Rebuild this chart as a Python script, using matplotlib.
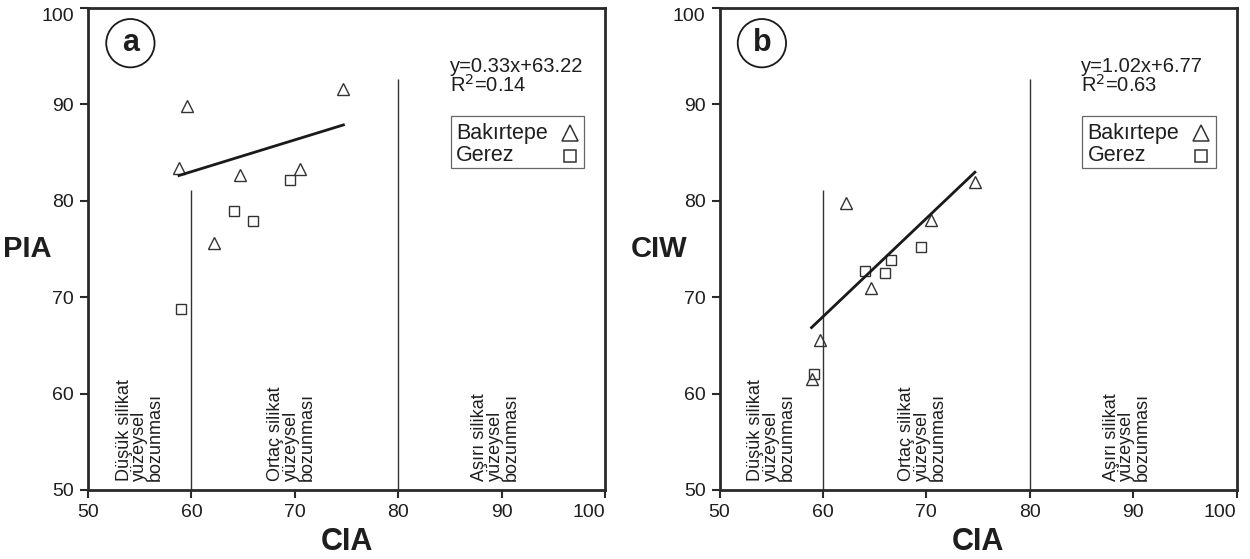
import matplotlib
matplotlib.use("Agg")
import matplotlib.pyplot as plt
from matplotlib.patches import Rectangle
import numpy as np

plt.rcParams['font.family'] = ['Liberation Sans', 'DejaVu Sans']

# ---- data ----
# Panel a: CIA vs PIA
a_bak_cia = [59.6, 74.7, 58.8, 64.7, 70.5, 62.2]
a_bak_pia = [89.8, 91.6, 83.4, 82.7, 83.3, 75.6]
a_ger_cia = [69.5, 64.1, 66.0, 59.0]
a_ger_pia = [82.2, 78.9, 77.9, 68.8]
a_slope, a_intercept, a_r2 = 0.33, 63.22, 0.14

# Panel b: CIA vs CIW
b_bak_cia = [62.2, 74.7, 70.5, 64.7, 59.7, 58.9]
b_bak_ciw = [79.8, 82.0, 78.0, 71.0, 65.6, 61.5]
b_ger_cia = [69.5, 66.6, 64.1, 66.0, 59.1]
b_ger_ciw = [75.2, 73.9, 72.7, 72.5, 62.0]
b_slope, b_intercept, b_r2 = 1.02, 6.77, 0.63

x_ticks = [50, 60, 70, 80, 90, 100]
y_ticks = [50, 60, 70, 80, 90, 100]
boundaries = [60, 80]
boundary_tops = [81.1, 92.6]
zone_labels = ["Düşük silikat\nyüzeysel\nbozunması",
               "Ortaç silikat\nyüzeysel\nbozunması",
               "Aşırı silikat\nyüzeysel\nbozunması"]
zone_x = [55.0, 69.65, 89.4]
series_names = ["Bakırtepe", "Gerez"]

TXT = '#1e1e1e'
EDGE = '#333333'
fig = plt.figure(figsize=(12.5, 5.59), dpi=100)
ax_a = fig.add_axes([88/1250, 1-490/559, 517/1250, 482/559])
ax_b = fig.add_axes([719.5/1250, 1-490/559, 517/1250, 482/559])


def draw(ax, bak_x, bak_y, ger_x, ger_y, slope, intercept, r2, ylabel, letter):
    ax.set_xlim(50, 100)
    ax.set_ylim(50, 100)
    ax.set_xticks(x_ticks)
    ax.set_yticks(y_ticks)
    for s in ax.spines.values():
        s.set_linewidth(2.0)
        s.set_color('#2a2a2a')
    ax.tick_params(direction='out', length=6, width=1.5, color='#2a2a2a',
                   labelsize=14, labelcolor=TXT, pad=4)
    ax.get_xticklabels()[-1].set_ha('right')
    ax.get_yticklabels()[-1].set_va('top')
    ax.vlines(boundaries, 50, boundary_tops, color=EDGE, lw=1.0)
    ax.plot(bak_x, bak_y, linestyle='none', marker='^', ms=8,
            mfc='none', mec=EDGE, mew=1.0)
    ax.plot(ger_x, ger_y, linestyle='none', marker='s', ms=6.5,
            mfc='none', mec=EDGE, mew=1.0)
    allx = list(bak_x) + list(ger_x)
    xs = np.array([min(allx), max(allx)])
    ax.plot(xs, slope * xs + intercept, color='#1a1a1a', lw=2.0)
    ax.text(85.0, 94.9, f"y={slope:.2f}x+{intercept:.2f}\nR$^{{2}}$={r2:.2f}",
            fontsize=14.5, color=TXT, ha='left', va='top', linespacing=0.9)
    # legend box (drawn manually: labels left, symbols in a right column)
    ax.add_patch(Rectangle((85.1, 83.4), 12.9, 5.4, fill=False,
                           ec='#666666', lw=0.9))
    ax.text(85.6, 87.0, series_names[0], fontsize=15.5, color=TXT,
            ha='left', va='center')
    ax.text(85.6, 84.75, series_names[1], fontsize=15.5, color=TXT,
            ha='left', va='center')
    ax.plot([96.6], [87.05], marker='^', ms=11, mfc='none', mec=EDGE, mew=1.1)
    ax.plot([96.6], [84.6], marker='s', ms=9, mfc='none', mec=EDGE, mew=1.1)
    for zx, zl in zip(zone_x, zone_labels):
        ax.text(zx, 50.9, zl, rotation=90, ha='center', va='bottom',
                multialignment='left', fontsize=13, color=TXT, linespacing=0.9)
    ax.text(54.1, 96.35, letter, fontsize=22, fontweight='bold', color=TXT,
            ha='center', va='center',
            bbox=dict(boxstyle='circle,pad=0.3', fc='none', ec='#1a1a1a', lw=1.3))
    ax.set_xlabel("CIA", fontsize=22, fontweight='bold', color=TXT, va='center')
    ax.set_ylabel(ylabel, fontsize=21, fontweight='bold', color=TXT, rotation=0,
                  ha='center', va='center')
    ax.xaxis.set_label_coords(0.5, -0.108)
    ax.yaxis.set_label_coords(-0.117, 0.5)


draw(ax_a, a_bak_cia, a_bak_pia, a_ger_cia, a_ger_pia, a_slope, a_intercept, a_r2, "PIA", "a")
draw(ax_b, b_bak_cia, b_bak_ciw, b_ger_cia, b_ger_ciw, b_slope, b_intercept, b_r2, "CIW", "b")

fig.savefig("out.png", dpi=100)
